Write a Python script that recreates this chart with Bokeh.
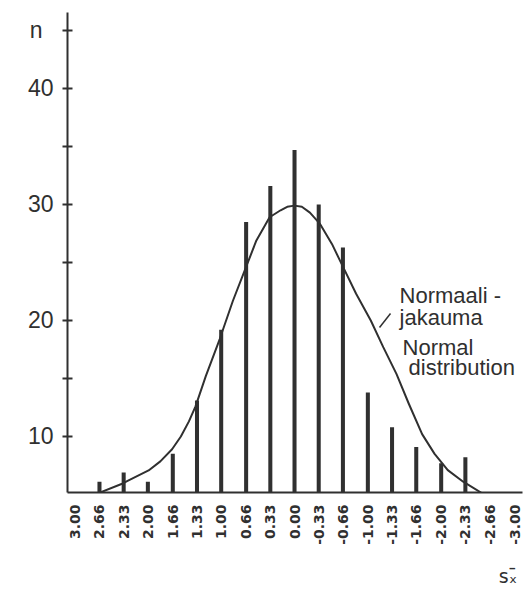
import math
from bokeh.plotting import figure
from bokeh.models import Range1d, FixedTicker, Label, ColumnDataSource, LinearAxis
from bokeh.embed import file_html
from bokeh.resources import INLINE

# ---- data ----
tick_labels = ["3.00", "2.66", "2.33", "2.00", "1.66", "1.33", "1.00", "0.66", "0.33",
               "0.00", "-0.33", "-0.66", "-1.00", "-1.33", "-1.66", "-2.00", "-2.33",
               "-2.66", "-3.00"]
bar_labels = ["2.66", "2.33", "2.00", "1.66", "1.33", "1.00", "0.66", "0.33", "0.00",
              "-0.33", "-0.66", "-1.00", "-1.33", "-1.66", "-2.00", "-2.33"]
bar_counts = [6.1, 6.9, 6.1, 8.5, 13.1, 19.2, 28.5, 31.6, 34.7,
              30.0, 26.3, 13.8, 10.8, 9.1, 7.7, 8.2]

# normal-distribution curve, points
curve_s = [2.64, 2.36, 2.27, 1.99, 1.83, 1.67, 1.55, 1.44, 1.35, 1.21, 1.02, 0.84,
           0.655, 0.52, 0.34, 0.19, 0.10, 0.00, -0.10, -0.21, -0.35, -0.51, -0.64,
           -0.84, -1.04, -1.21, -1.39, -1.56, -1.74, -1.91, -2.09, -2.30, -2.57]
curve_n = [5.2, 5.9, 6.2, 7.07, 7.85, 8.9, 10.0, 11.3, 12.6, 15.2, 18.4, 21.7,
           24.7, 26.9, 28.9, 29.5, 29.8, 29.9, 29.8, 29.3, 28.3, 26.6, 24.9,
           22.3, 20.0, 17.7, 15.4, 12.8, 10.2, 8.5, 7.1, 6.1, 5.06]

y_ticks = [10, 15, 20, 25, 30, 35, 40, 45]
y_labels = {10: "10", 15: "", 20: "20", 25: "", 30: "30", 35: "", 40: "40",
            45: "n\u00a0\u2009"}
x_title = "s\u2093\u0304"
x_title_at = -2.91

INK = "#303030"
FONT = "Liberation Sans"

Y0, Y1 = 5.17, 46.55
p = figure(width=524, height=589, output_backend="svg", toolbar_location=None,
           x_range=Range1d(3.096, -3.109), y_range=Range1d(Y0, Y1),
           title=None)
p.min_border_left = 67
p.min_border_right = 2
p.min_border_top = 12
p.min_border_bottom = 97
p.outline_line_color = None
p.xgrid.visible = False
p.ygrid.visible = False
p.background_fill_color = "white"
p.border_fill_color = "white"

# x axis
xpos = [float(t) for t in tick_labels]
p.xaxis.ticker = FixedTicker(ticks=xpos)
p.xaxis.major_label_overrides = {v: t for v, t in zip(xpos, tick_labels)}
p.xaxis.major_label_orientation = math.pi / 2
p.xaxis.major_tick_in = 0
p.xaxis.major_tick_out = 0
p.xaxis.minor_tick_line_color = None
p.xaxis.axis_line_width = 2
p.xaxis.axis_line_color = INK
p.xaxis.major_label_text_font = "DejaVu Sans"
p.xaxis.major_label_text_font_style = "bold"
p.xaxis.major_label_text_font_size = "14px"
p.xaxis.major_label_text_color = INK
p.xaxis.major_label_standoff = 12

# second, bare axis below carrying the s_x-bar title near the right end
ax2 = LinearAxis(ticker=FixedTicker(ticks=[x_title_at]),
                 major_label_overrides={x_title_at: x_title},
                 axis_line_color=None, major_tick_line_color=None,
                 minor_tick_line_color=None, major_tick_in=0, major_tick_out=0,
                 major_label_standoff=17, major_label_text_font="DejaVu Sans",
                 major_label_text_font_size="19px", major_label_text_color=INK)
p.add_layout(ax2, "below")

# y axis
p.yaxis.ticker = FixedTicker(ticks=y_ticks)
p.yaxis.major_label_overrides = y_labels
p.yaxis.major_tick_in = 5
p.yaxis.major_tick_out = 5
p.yaxis.major_tick_line_width = 2
p.yaxis.major_tick_line_color = INK
p.yaxis.minor_tick_line_color = None
p.yaxis.axis_line_width = 2
p.yaxis.axis_line_color = INK
p.yaxis.major_label_text_font = FONT
p.yaxis.major_label_text_font_size = "23px"
p.yaxis.major_label_text_color = INK
p.yaxis.major_label_standoff = 9

# bars
bx = [float(t) for t in bar_labels]
src = ColumnDataSource(dict(x=bx, top=bar_counts))
p.vbar(x="x", top="top", bottom=Y0, width=0.055, source=src,
       fill_color=INK, line_color=None)

# curve
p.line(curve_s, curve_n, line_width=2, line_color=INK, line_join="round")

# annotation
def lab(x, y, text, size, font=FONT, align="left"):
    p.add_layout(Label(x=x, y=y, text=text, text_font=font, text_font_size=size,
                       text_color=INK, text_baseline="alphabetic", text_align=align))

lab(-1.432, 22.16, "Normaali -", "22px")
lab(-1.432, 20.26, "jakauma", "22px")
lab(-1.473, 17.67, "Normal", "22px")
lab(-1.555, 15.95, "distribution", "22px")
p.line([-1.159, -1.309], [19.4, 20.6], line_width=1.5, line_color=INK)

open("out.html", "w").write(file_html(p, INLINE))
